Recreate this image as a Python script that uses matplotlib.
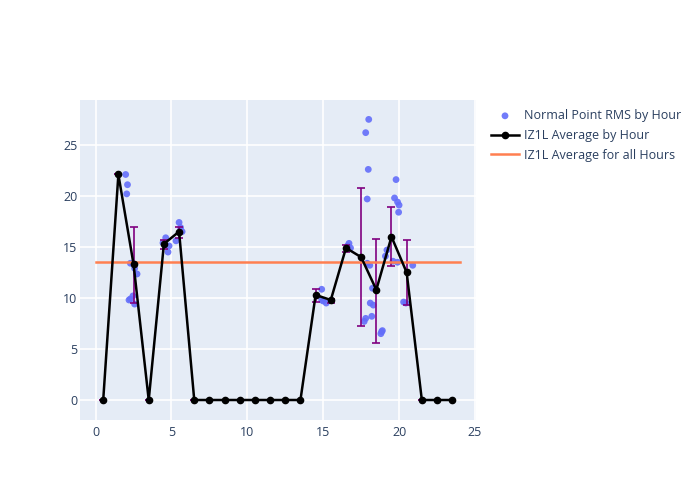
import matplotlib.pyplot as plt
import numpy as np

# per-pass RMS values (hour of day, rms)
point_hours = [1.98, 2.1, 2.05, 2.29, 2.57, 2.73, 2.29, 2.46, 2.57, 2.2,
               4.62, 4.84, 4.77, 4.44, 5.5, 5.6, 5.7, 5.3,
               14.9, 15.0, 15.2, 14.9, 16.7, 16.8, 16.6,
               18.0, 17.8, 17.97, 17.9, 17.9, 18.07, 17.8, 17.7,
               18.25, 18.1, 18.3, 18.2, 18.85, 18.9, 18.8,
               19.8, 19.7, 19.9, 20.0, 19.97, 19.2, 19.1, 19.6, 19.9,
               20.9, 20.3, 20.45]
point_rms = [22.1, 21.1, 20.2, 13.4, 12.9, 12.35, 9.9, 10.2, 9.4, 9.8,
             15.9, 15.1, 14.5, 15.4, 17.4, 16.9, 16.5, 15.6,
             10.85, 9.7, 9.5, 9.8, 15.35, 14.9, 15.1,
             27.5, 26.2, 22.6, 19.7, 13.4, 13.2, 8.0, 7.7,
             10.95, 9.5, 9.3, 8.2, 6.7, 6.8, 6.5,
             21.6, 19.8, 19.4, 19.1, 18.4, 14.7, 14.1, 13.6, 13.5,
             13.2, 9.6, 9.5]

hours = np.arange(24) + 0.5
hour_avg = [0, 22.1, 13.3, 0, 15.3, 16.5, 0, 0, 0, 0, 0, 0, 0, 0,
            10.3, 9.8, 14.9, 14.0, 10.8, 16.0, 12.5, 0, 0, 0]
err_hi = [0, 0, 17.0, 0, 15.7, 17.0, 0, 0, 0, 0, 0, 0, 0, 0,
          10.9, 9.9, 15.2, 20.8, 15.8, 18.95, 15.7, 0, 0, 0]
err_lo = [0, 0, 9.5, 0, 14.8, 15.9, 0, 0, 0, 0, 0, 0, 0, 0,
          9.6, 9.5, 14.5, 7.25, 5.6, 13.1, 9.35, 0, 0, 0]
overall_avg = 13.5

plt.rcParams["font.family"] = ["Open Sans", "DejaVu Sans"]
text_color = "#2a3f5f"

fig = plt.figure(figsize=(7, 5), dpi=100)
ax = fig.add_axes([80 / 700, 80 / 500, 396 / 700, 320 / 500])
ax.set_facecolor("#e5ecf6")

avg = np.array(hour_avg)
hi = np.array(err_hi)
lo = np.array(err_lo)
yerr = np.vstack([np.where(hi > 0, avg - lo, 0), np.where(hi > 0, hi - avg, 0)])

ax.scatter(point_hours, point_rms, s=24, color="#636efa", alpha=0.9,
           edgecolors="none", zorder=3, label="Normal Point RMS by Hour")
ax.errorbar(hours, hour_avg, yerr=yerr, fmt="none", ecolor="purple",
            elinewidth=1.2, capsize=3, capthick=1.2, zorder=4)
ax.plot(hours, hour_avg, color="black", marker="o", markersize=4.5,
        linewidth=1.8, zorder=5, label="IZ1L Average by Hour")
ax.plot([0, 24], [overall_avg, overall_avg], color="#ff7f50", linewidth=1.8,
        zorder=4, label="IZ1L Average for all Hours")

ax.set_xlim(-1.03, 25.07)
ax.set_ylim(-1.96, 29.4)
ax.set_xticks([0, 5, 10, 15, 20, 25])
ax.set_yticks([0, 5, 10, 15, 20, 25])
ax.grid(color="white", linewidth=1.2)
ax.set_axisbelow(True)
for s in ax.spines.values():
    s.set_visible(False)
ax.tick_params(length=0, labelsize=9, colors=text_color)
ax.tick_params(axis="x", pad=4)
ax.tick_params(axis="y", pad=2)

ax.legend(loc="upper left", bbox_to_anchor=(1.018, 0.995), frameon=False,
          fontsize=9, labelcolor=text_color, handlelength=2.3,
          handletextpad=0.4, borderaxespad=0.2, labelspacing=0.55)

fig.savefig("out.png", dpi=100)
